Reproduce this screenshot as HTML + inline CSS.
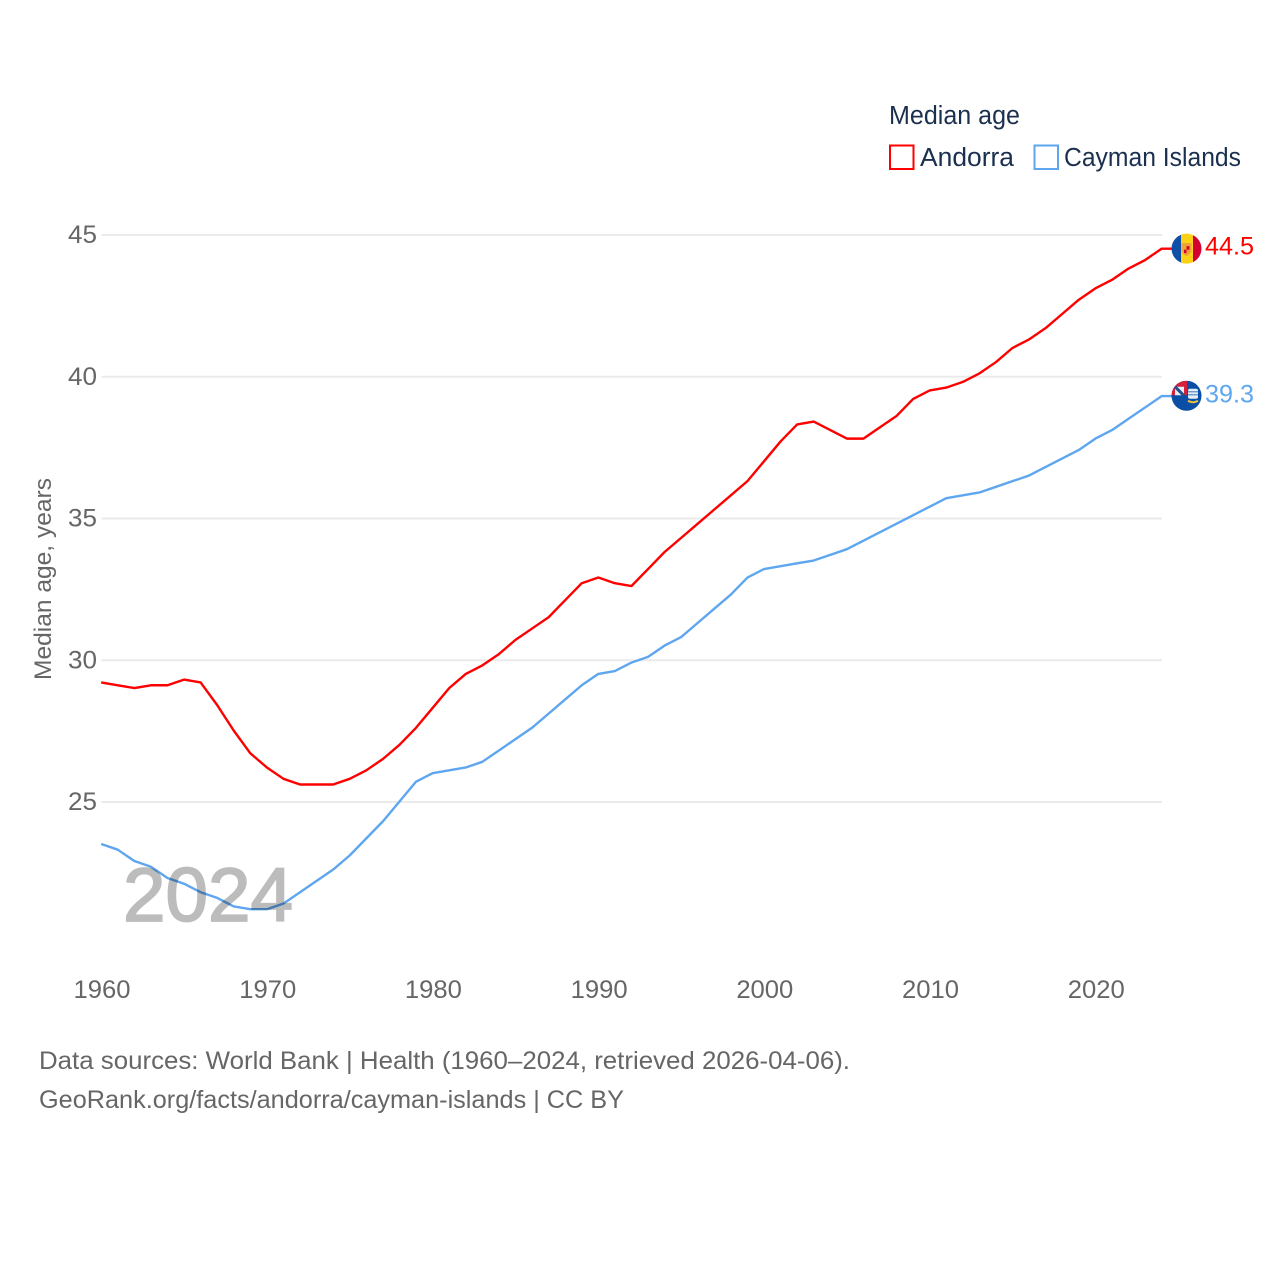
<!DOCTYPE html>
<html lang="en">
<head>
<meta charset="utf-8">
<title>Median age: Andorra and Cayman Islands</title>
<style>
html,body{margin:0;padding:0;background:#fff;width:1280px;height:1280px;overflow:hidden}
svg{display:block;font-family:"Liberation Sans",sans-serif}
</style>
</head>
<body>
<svg id="chart" width="1280" height="1280" viewBox="0 0 1280 1280">
  <defs>
    <clipPath id="flag-clip-a"><circle cx="1186.5" cy="248.5" r="15"/></clipPath>
    <clipPath id="flag-clip-b"><circle cx="1186.5" cy="396" r="15"/></clipPath>
  </defs>
  <g id="grid"></g>
  <g id="yticks"></g>
  <g id="xticks"></g>
  <text x="0" y="0" transform="translate(51,680) rotate(-90)" font-size="24.5" fill="#666" textLength="202" lengthAdjust="spacingAndGlyphs">Median age, years</text>
  <g id="series"></g>
  <text x="123" y="921" font-size="76" font-weight="400" fill="#000" stroke="#000" stroke-width="1.800" opacity="0.26" textLength="170" lengthAdjust="spacingAndGlyphs">2024</text>

  <g id="flag-andorra">
    <g clip-path="url(#flag-clip-a)">
      <rect x="1171" y="233" width="11" height="31" fill="#0f4fa8"/>
      <rect x="1181" y="233" width="12" height="31" fill="#fdd116"/>
      <rect x="1193" y="233" width="9" height="31" fill="#d50032"/>
      <path d="M1181.500 243h10v7q0 3-5 6q-5-3-5-6z" fill="#eda33a"/>
      <rect x="1184" y="246" width="2.500" height="3.500" fill="#e8b020"/>
      <rect x="1186.500" y="246" width="3" height="3.500" fill="#d50032"/>
      <rect x="1184" y="249.500" width="2.500" height="3.500" fill="#d50032"/>
    </g>
  </g>
  <g id="flag-cayman">
    <g clip-path="url(#flag-clip-b)">
      <rect x="1171" y="381" width="31" height="31" fill="#0a4ea6"/>
      <rect x="1172" y="381" width="15" height="15" fill="#d4203a"/>
      <rect x="1175" y="387" width="9" height="9" fill="#e8eef6"/>
      <path d="M1175 387l9 9" stroke="#24508f" stroke-width="3" fill="none"/>
      <path d="M1172 396h15" stroke="#0a4ea6" stroke-width="1" fill="none"/>
      <rect x="1188" y="389" width="10" height="10" rx="2" fill="#e3edf6"/>
      <path d="M1188 392h10M1188 395h10" stroke="#5a90c8" stroke-width="1.200"/>
      <path d="M1188 401q5 3 10 0" stroke="#e8c040" stroke-width="2" fill="none"/>
    </g>
  </g>

  <g id="end-labels"></g>

  <text x="889" y="124" font-size="25.500" fill="#1b2f4f" textLength="131" lengthAdjust="spacingAndGlyphs">Median age</text>
  <g>
    <rect x="890" y="145.500" width="23.500" height="23.500" fill="none" stroke="#ff0000" stroke-width="2"/>
    <text x="920" y="166" font-size="25.500" fill="#1b2f4f" textLength="94" lengthAdjust="spacingAndGlyphs">Andorra</text>
  </g>
  <g>
    <rect x="1034.500" y="145.500" width="23.500" height="23.500" fill="none" stroke="#5ea6ef" stroke-width="2"/>
    <text x="1064" y="166" font-size="25.500" fill="#1b2f4f" textLength="177" lengthAdjust="spacingAndGlyphs">Cayman Islands</text>
  </g>

  <text x="39" y="1069" font-size="25" fill="#666" textLength="811" lengthAdjust="spacingAndGlyphs">Data sources: World Bank | Health (1960–2024, retrieved 2026-04-06).</text>
  <text x="39" y="1108" font-size="25" fill="#666" textLength="585" lengthAdjust="spacingAndGlyphs">GeoRank.org/facts/andorra/cayman-islands | CC BY</text>
</svg>
<script>
var startYear = 1960;
var andorraValues = [29.2,29.1,29.0,29.1,29.1,29.3,29.2,28.4,27.5,26.7,26.2,25.8,25.6,25.6,25.6,25.8,26.1,26.5,27.0,27.6,28.3,29.0,29.5,29.8,30.2,30.7,31.1,31.5,32.1,32.7,32.9,32.7,32.6,33.2,33.8,34.3,34.8,35.3,35.8,36.3,37.0,37.7,38.3,38.4,38.1,37.8,37.8,38.2,38.6,39.2,39.5,39.6,39.8,40.1,40.5,41.0,41.3,41.7,42.2,42.7,43.1,43.4,43.8,44.1,44.5];
var caymanValues = [23.5,23.3,22.9,22.7,22.3,22.1,21.8,21.6,21.3,21.2,21.2,21.4,21.8,22.2,22.6,23.1,23.7,24.3,25.0,25.7,26.0,26.1,26.2,26.4,26.8,27.2,27.6,28.1,28.6,29.1,29.5,29.6,29.9,30.1,30.5,30.8,31.3,31.8,32.3,32.9,33.2,33.3,33.4,33.5,33.7,33.9,34.2,34.5,34.8,35.1,35.4,35.7,35.8,35.9,36.1,36.3,36.5,36.8,37.1,37.4,37.8,38.1,38.5,38.9,39.3];
var yTickValues = [25,30,35,40,45];
var xTickValues = [1960,1970,1980,1990,2000,2010,2020];

var NS = 'http://www.w3.org/2000/svg';
function xScale(year){ return 101.5 + (year - 1960) * (1162 - 101.5) / 64; }
function yScale(v){ return 802 - (v - 25) * (802 - 235) / 20; }
function make(tag, parent){ var el = document.createElementNS(NS, tag); parent.appendChild(el); return el; }

var grid = document.getElementById('grid');
var yticks = document.getElementById('yticks');
yTickValues.forEach(function(v){
  var line = make('line', grid);
  
  
  line.setAttribute('x1', xScale(1960));
  line.setAttribute('x2', xScale(2024));
  line.setAttribute('y1', yScale(v));
  line.setAttribute('y2', yScale(v));
  line.setAttribute('stroke', '#ebebeb');
  line.setAttribute('stroke-width', '2');
  var t = make('text', yticks);
  
  
  t.setAttribute('x', 68);
  t.setAttribute('y', yScale(v) + 8);
  t.setAttribute('font-size', '25');
  t.setAttribute('fill', '#666');
  t.setAttribute('textLength', '29');
  t.setAttribute('lengthAdjust', 'spacingAndGlyphs');
  t.textContent = String(v);
});

var xticks = document.getElementById('xticks');
xTickValues.forEach(function(y){
  var t = make('text', xticks);
  
  
  t.setAttribute('x', xScale(y) - 28);
  t.setAttribute('y', 998);
  t.setAttribute('font-size', '25');
  t.setAttribute('fill', '#666');
  t.setAttribute('textLength', '57');
  t.setAttribute('lengthAdjust', 'spacingAndGlyphs');
  t.textContent = String(y);
});

var seriesGroup = document.getElementById('series');
var endLabels = document.getElementById('end-labels');

function drawSeries(values, color, lineName, labelName, labelDy){
  var pts = values.map(function(v, i){ return (xScale(startYear + i) - 0.3).toFixed(2) + ',' + (yScale(v) - 0.5).toFixed(2); });
  var last = values[values.length - 1];
  pts.push('1172,' + (yScale(last) - 0.5).toFixed(2));
  var line = make('polyline', seriesGroup);
  
  
  line.setAttribute('points', pts.join(' '));
  line.setAttribute('fill', 'none');
  line.setAttribute('stroke', color);
  line.setAttribute('stroke-width', '2.400');
  line.setAttribute('stroke-linejoin', 'round');
  var t = make('text', endLabels);
  
  
  t.setAttribute('x', 1205);
  t.setAttribute('y', yScale(last) + labelDy);
  t.setAttribute('font-size', '25');
  t.setAttribute('fill', color);
  t.setAttribute('textLength', '49');
  t.setAttribute('lengthAdjust', 'spacingAndGlyphs');
  t.textContent = last.toFixed(1);
}
drawSeries(andorraValues, '#ff0000', 'andorra-line', 'andorra-end-value', 5.5);
drawSeries(caymanValues, '#5ea6ef', 'cayman-islands-line', 'cayman-islands-end-value', 6);

document.getElementById('flag-andorra').setAttribute('transform', 'translate(0,' + (yScale(andorraValues[andorraValues.length - 1]) - 249) + ')');
document.getElementById('flag-cayman').setAttribute('transform', 'translate(0,' + (yScale(caymanValues[caymanValues.length - 1]) - 396.85) + ')');
</script>
</body>
</html>
